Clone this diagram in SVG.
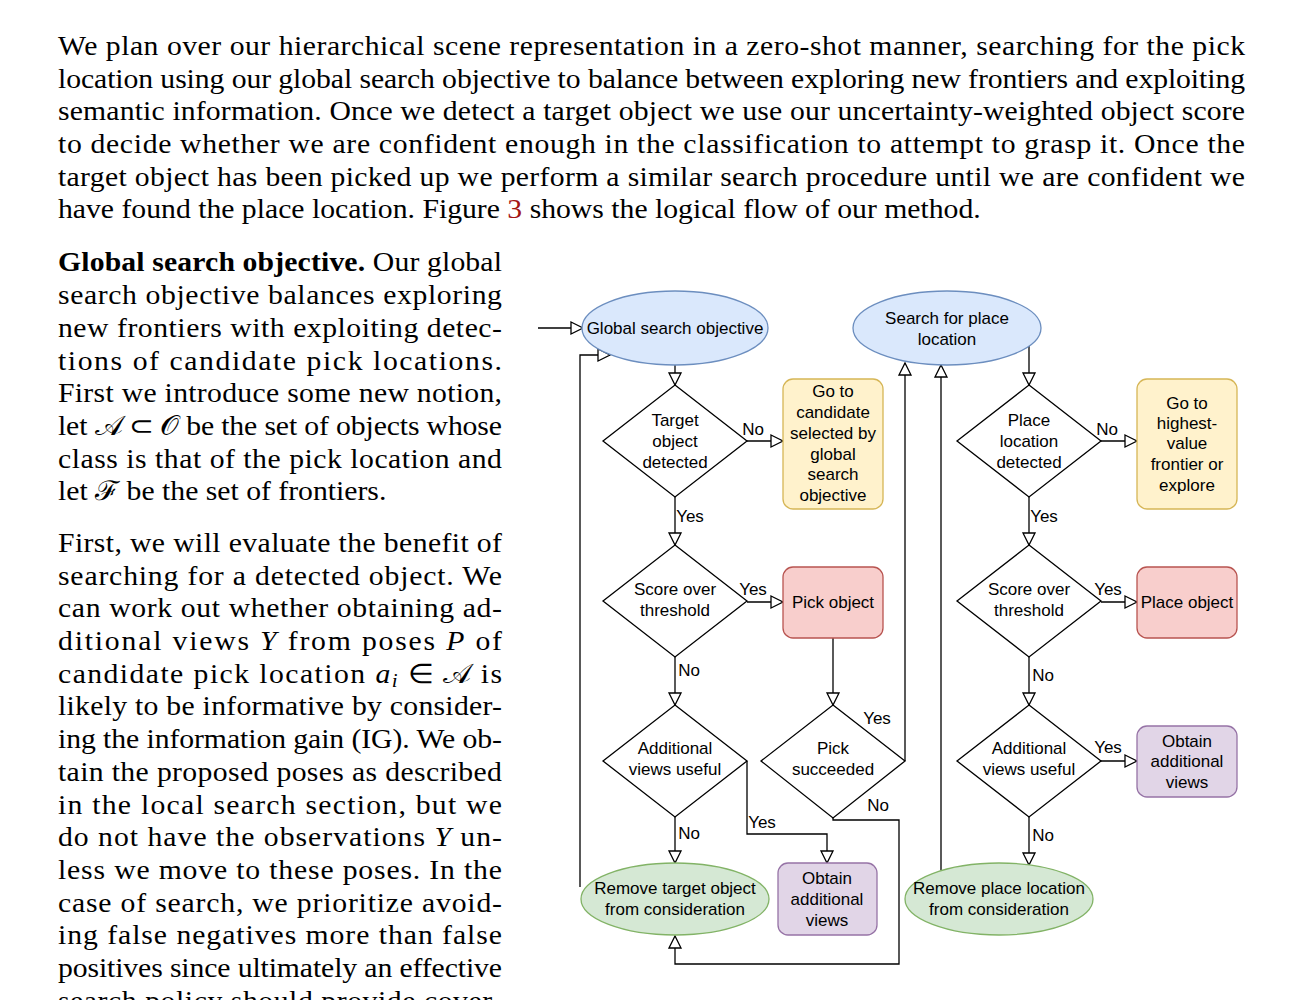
<svg xmlns="http://www.w3.org/2000/svg" width="1300" height="1000" viewBox="0 0 1300 1000">
<style>
.p{font-family:"Liberation Serif","Times New Roman",serif;font-size:27px;fill:#000}
.b{font-weight:bold}
.i{font-style:italic}
.m{font-family:"DejaVu Serif","Liberation Serif",serif}
.n{font-family:"Liberation Sans",Arial,sans-serif;font-size:17px;text-anchor:middle;fill:#000}
.c{fill:none;stroke:#000;stroke-width:1.3}
.dia{fill:#fff;stroke:#000;stroke-width:1.3}
.blue{fill:#dae8fc;stroke:#6c8ebf;stroke-width:1.3}
.yel{fill:#fff2cc;stroke:#d6b656;stroke-width:1.3}
.red{fill:#f8cecc;stroke:#b85450;stroke-width:1.3}
.pur{fill:#e1d5e7;stroke:#9673a6;stroke-width:1.3}
.grn{fill:#d5e8d4;stroke:#82b366;stroke-width:1.3}
</style>
<defs>
<marker id="ah" markerUnits="userSpaceOnUse" markerWidth="16" markerHeight="16" refX="13" refY="7" orient="auto" viewBox="-1 -1 16 16">
<path d="M1,1 L13,7 L1,13 Z" fill="#fff" stroke="#000" stroke-width="1.3"/>
</marker>
</defs>
<rect width="1300" height="1000" fill="#fff"/>

<g id="body-text" transform="scale(1.1 1)">
<text class="p" x="52.73" y="55" textLength="1079.1" lengthAdjust="spacing">We plan over our hierarchical scene representation in a zero-shot manner, searching for the pick</text>
<text class="p" x="52.73" y="87.7" textLength="1079.1" lengthAdjust="spacing">location using our global search objective to balance between exploring new frontiers and exploiting</text>
<text class="p" x="52.73" y="120.4" textLength="1079.1" lengthAdjust="spacing">semantic information. Once we detect a target object we use our uncertainty-weighted object score</text>
<text class="p" x="52.73" y="153.1" textLength="1079.1" lengthAdjust="spacing">to decide whether we are confident enough in the classification to attempt to grasp it.  Once the</text>
<text class="p" x="52.73" y="185.8" textLength="1079.1" lengthAdjust="spacing">target object has been picked up we perform a similar search procedure until we are confident we</text>
<text class="p" x="52.73" y="218.5">have found the place location. Figure <tspan fill="#a31515">3</tspan> shows the logical flow of our method.</text>

<text class="p" x="52.73" y="271.5" textLength="403.6" lengthAdjust="spacing"><tspan class="b">Global search objective.</tspan> Our global</text>
<text class="p" x="52.73" y="304.2" textLength="403.6" lengthAdjust="spacing">search objective balances exploring</text>
<text class="p" x="52.73" y="336.9" textLength="403.6" lengthAdjust="spacing">new frontiers with exploiting detec-</text>
<text class="p" x="52.73" y="369.6" textLength="403.6" lengthAdjust="spacing">tions of candidate pick locations.</text>
<text class="p" x="52.73" y="402.3" textLength="403.6" lengthAdjust="spacing">First we introduce some new notion,</text>
<text class="p" x="52.73" y="435" textLength="403.6" lengthAdjust="spacing">let <tspan class="m">𝒜</tspan> ⊂ <tspan class="m">𝒪</tspan> be the set of objects whose</text>
<text class="p" x="52.73" y="467.7" textLength="403.6" lengthAdjust="spacing">class is that of the pick location and</text>
<text class="p" x="52.73" y="500.4">let <tspan class="m">ℱ</tspan> be the set of frontiers.</text>

<text class="p" x="52.73" y="552" textLength="403.6" lengthAdjust="spacing">First, we will evaluate the benefit of</text>
<text class="p" x="52.73" y="584.7" textLength="403.6" lengthAdjust="spacing">searching for a detected object.  We</text>
<text class="p" x="52.73" y="617.4" textLength="403.6" lengthAdjust="spacing">can work out whether obtaining ad-</text>
<text class="p" x="52.73" y="650.1" textLength="403.6" lengthAdjust="spacing">ditional views <tspan class="i">Y</tspan> from poses <tspan class="i">P</tspan> of</text>
<text class="p" x="52.73" y="682.8" textLength="403.6" lengthAdjust="spacing">candidate pick location <tspan class="i">a</tspan><tspan class="i" font-size="19" dy="4">i</tspan><tspan dy="-4"> ∈ </tspan><tspan class="m">𝒜</tspan> is</text>
<text class="p" x="52.73" y="715.5" textLength="403.6" lengthAdjust="spacing">likely to be informative by consider-</text>
<text class="p" x="52.73" y="748.2" textLength="403.6" lengthAdjust="spacing">ing the information gain (IG). We ob-</text>
<text class="p" x="52.73" y="780.9" textLength="403.6" lengthAdjust="spacing">tain the proposed poses as described</text>
<text class="p" x="52.73" y="813.6" textLength="403.6" lengthAdjust="spacing">in the local search section, but we</text>
<text class="p" x="52.73" y="846.3" textLength="403.6" lengthAdjust="spacing">do not have the observations <tspan class="i">Y</tspan> un-</text>
<text class="p" x="52.73" y="879" textLength="403.6" lengthAdjust="spacing">less we move to these poses.  In the</text>
<text class="p" x="52.73" y="911.7" textLength="403.6" lengthAdjust="spacing">case of search, we prioritize avoid-</text>
<text class="p" x="52.73" y="944.4" textLength="403.6" lengthAdjust="spacing">ing false negatives more than false</text>
<text class="p" x="52.73" y="977.1" textLength="403.6" lengthAdjust="spacing">positives since ultimately an effective</text>
<text class="p" x="52.73" y="1009.8" textLength="403.6" lengthAdjust="spacing">search policy should provide cover-</text>
</g>

<g id="connectors">
<path class="c" d="M538,328 L583,328" marker-end="url(#ah)"/>
<path class="c" d="M580,887 L580,355 L610,355" marker-end="url(#ah)"/>
<path class="c" d="M675,365 L675,385" marker-end="url(#ah)"/>
<path class="c" d="M747,441 L783,441" marker-end="url(#ah)"/>
<path class="c" d="M675,497 L675,545" marker-end="url(#ah)"/>
<path class="c" d="M747,602 L783,602" marker-end="url(#ah)"/>
<path class="c" d="M675,657 L675,705" marker-end="url(#ah)"/>
<path class="c" d="M675,817 L675,863" marker-end="url(#ah)"/>
<path class="c" d="M747,761 L747,834 L827,834 L827,863" marker-end="url(#ah)"/>
<path class="c" d="M833,638 L833,705" marker-end="url(#ah)"/>
<path class="c" d="M905,761 L905,363" marker-end="url(#ah)"/>
<path class="c" d="M833,818 L833,820 L899,820 L899,964 L675,964 L675,936" marker-end="url(#ah)"/>
<path class="c" d="M941,870 L941,365" marker-end="url(#ah)"/>
<path class="c" d="M1029,346 L1029,385" marker-end="url(#ah)"/>
<path class="c" d="M1101,441 L1137,441" marker-end="url(#ah)"/>
<path class="c" d="M1029,497 L1029,545" marker-end="url(#ah)"/>
<path class="c" d="M1101,602 L1137,602" marker-end="url(#ah)"/>
<path class="c" d="M1029,657 L1029,705" marker-end="url(#ah)"/>
<path class="c" d="M1101,761 L1137,761" marker-end="url(#ah)"/>
<path class="c" d="M1029,817 L1029,865" marker-end="url(#ah)"/>
</g>

<g id="edge-labels">
<text class="n" x="753" y="435">No</text>
<text class="n" x="690" y="522">Yes</text>
<text class="n" x="753" y="595">Yes</text>
<text class="n" x="689" y="676">No</text>
<text class="n" x="689" y="839">No</text>
<text class="n" x="762" y="828">Yes</text>
<text class="n" x="877" y="724">Yes</text>
<text class="n" x="878" y="811">No</text>
<text class="n" x="1107" y="435">No</text>
<text class="n" x="1044" y="522">Yes</text>
<text class="n" x="1108" y="595">Yes</text>
<text class="n" x="1043" y="681">No</text>
<text class="n" x="1108" y="753">Yes</text>
<text class="n" x="1043" y="841">No</text>
</g>

<g id="global-search">
<ellipse class="blue" cx="675" cy="328" rx="93" ry="37"/>
<text class="n" x="675" y="334">Global search objective</text>
</g>
<g id="search-place">
<ellipse class="blue" cx="947" cy="328" rx="94" ry="37"/>
<text class="n"><tspan x="947" y="324">Search for place</tspan><tspan x="947" y="345">location</tspan></text>
</g>
<g id="target-detected">
<path class="dia" d="M675,385 L747,441 L675,497 L603,441 Z"/>
<text class="n"><tspan x="675" y="426">Target</tspan><tspan x="675" y="447">object</tspan><tspan x="675" y="468">detected</tspan></text>
</g>
<g id="go-candidate">
<rect class="yel" x="783" y="379" width="100" height="130" rx="10"/>
<text class="n"><tspan x="833" y="397">Go to</tspan><tspan x="833" y="418">candidate</tspan><tspan x="833" y="439">selected by</tspan><tspan x="833" y="460">global</tspan><tspan x="833" y="480">search</tspan><tspan x="833" y="501">objective</tspan></text>
</g>
<g id="score-1">
<path class="dia" d="M675,545 L747,601 L675,657 L603,601 Z"/>
<text class="n"><tspan x="675" y="595">Score over</tspan><tspan x="675" y="616">threshold</tspan></text>
</g>
<g id="pick-object">
<rect class="red" x="783" y="567" width="100" height="71" rx="10"/>
<text class="n" x="833" y="608">Pick object</text>
</g>
<g id="views-1">
<path class="dia" d="M675,705 L747,761 L675,817 L603,761 Z"/>
<text class="n"><tspan x="675" y="754">Additional</tspan><tspan x="675" y="775">views useful</tspan></text>
</g>
<g id="pick-succeeded">
<path class="dia" d="M833,705 L905,761 L833,818 L761,761 Z"/>
<text class="n"><tspan x="833" y="754">Pick</tspan><tspan x="833" y="775">succeeded</tspan></text>
</g>
<g id="remove-target">
<ellipse class="grn" cx="675" cy="899" rx="94" ry="36"/>
<text class="n"><tspan x="675" y="894">Remove target object</tspan><tspan x="675" y="915">from consideration</tspan></text>
</g>
<g id="obtain-1">
<rect class="pur" x="778" y="863" width="99" height="72" rx="10"/>
<text class="n"><tspan x="827" y="884">Obtain</tspan><tspan x="827" y="905">additional</tspan><tspan x="827" y="926">views</tspan></text>
</g>
<g id="place-detected">
<path class="dia" d="M1029,385 L1101,441 L1029,497 L957,441 Z"/>
<text class="n"><tspan x="1029" y="426">Place</tspan><tspan x="1029" y="447">location</tspan><tspan x="1029" y="468">detected</tspan></text>
</g>
<g id="go-frontier">
<rect class="yel" x="1137" y="379" width="100" height="130" rx="10"/>
<text class="n"><tspan x="1187" y="409">Go to</tspan><tspan x="1187" y="429">highest-</tspan><tspan x="1187" y="449">value</tspan><tspan x="1187" y="470">frontier or</tspan><tspan x="1187" y="491">explore</tspan></text>
</g>
<g id="score-2">
<path class="dia" d="M1029,545 L1101,601 L1029,657 L957,601 Z"/>
<text class="n"><tspan x="1029" y="595">Score over</tspan><tspan x="1029" y="616">threshold</tspan></text>
</g>
<g id="place-object">
<rect class="red" x="1137" y="567" width="100" height="71" rx="10"/>
<text class="n" x="1187" y="608">Place object</text>
</g>
<g id="views-2">
<path class="dia" d="M1029,705 L1101,761 L1029,817 L957,761 Z"/>
<text class="n"><tspan x="1029" y="754">Additional</tspan><tspan x="1029" y="775">views useful</tspan></text>
</g>
<g id="obtain-2">
<rect class="pur" x="1137" y="726" width="100" height="71" rx="10"/>
<text class="n"><tspan x="1187" y="747">Obtain</tspan><tspan x="1187" y="767">additional</tspan><tspan x="1187" y="788">views</tspan></text>
</g>
<g id="remove-place">
<ellipse class="grn" cx="999" cy="899" rx="94" ry="36"/>
<text class="n"><tspan x="999" y="894">Remove place location</tspan><tspan x="999" y="915">from consideration</tspan></text>
</g>
</svg>
